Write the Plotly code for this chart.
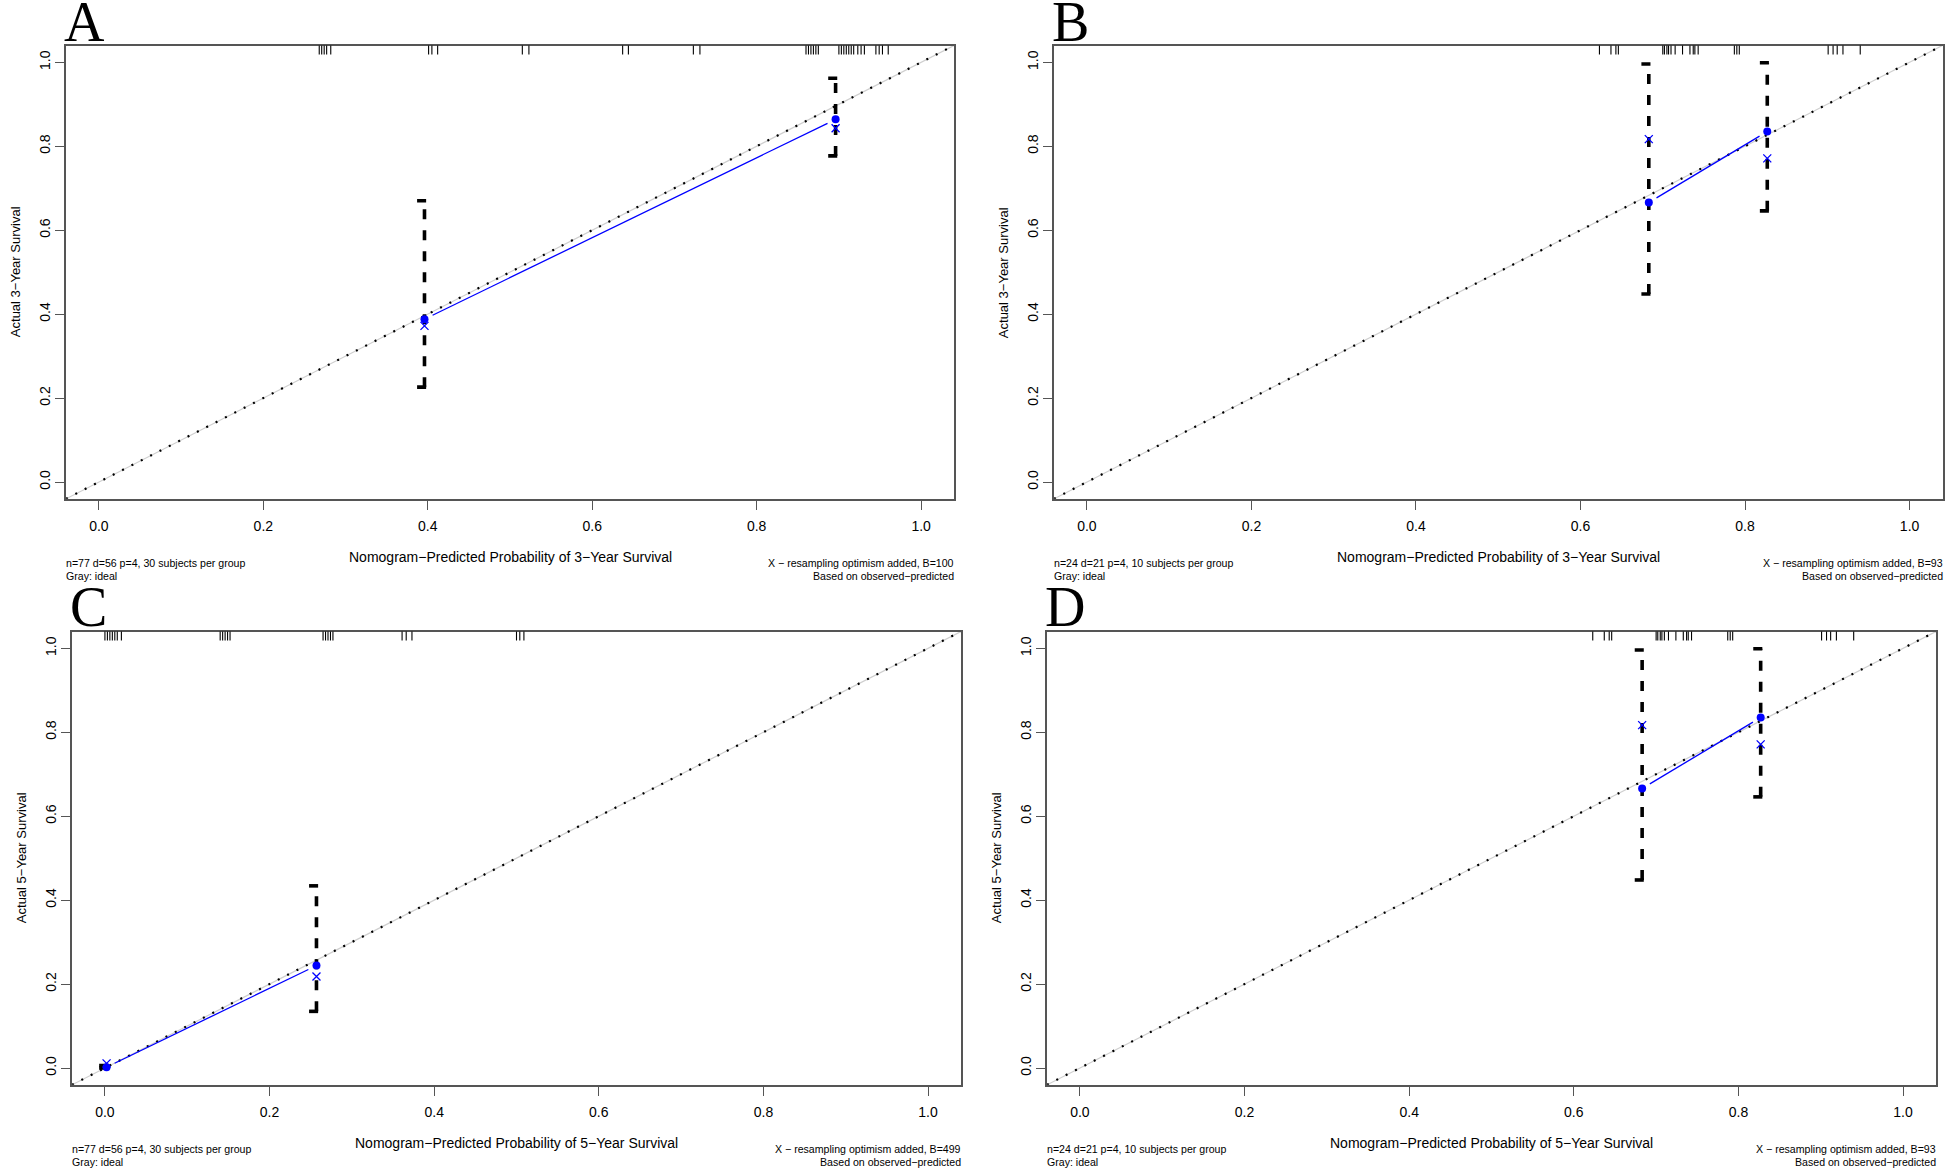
import numpy as np
import plotly.graph_objects as go

# ---------------- data ----------------
panel_letters = ["A", "B", "C", "D"]
x_titles = ["Nomogram\u2212Predicted Probability of 3\u2212Year Survival",
            "Nomogram\u2212Predicted Probability of 3\u2212Year Survival",
            "Nomogram\u2212Predicted Probability of 5\u2212Year Survival",
            "Nomogram\u2212Predicted Probability of 5\u2212Year Survival"]
y_titles = ["Actual 3\u2212Year Survival", "Actual 3\u2212Year Survival",
            "Actual 5\u2212Year Survival", "Actual 5\u2212Year Survival"]
left_notes = ["n=77 d=56 p=4, 30 subjects per group",
              "n=24 d=21 p=4, 10 subjects per group",
              "n=77 d=56 p=4, 30 subjects per group",
              "n=24 d=21 p=4, 10 subjects per group"]
left_notes2 = ["Gray: ideal"] * 4
right_notes = ["X \u2212 resampling optimism added, B=100",
               "X \u2212 resampling optimism added, B=93",
               "X \u2212 resampling optimism added, B=499",
               "X \u2212 resampling optimism added, B=93"]
right_notes2 = ["Based on observed\u2212predicted"] * 4

A_pred = [0.396, 0.896]
A_obs = [0.388, 0.864]
A_corr = [0.372, 0.843]
A_lo = [0.226, 0.777]
A_hi = [0.670, 0.962]
A_rug = [0.268, 0.271, 0.274, 0.277, 0.282, 0.401, 0.405, 0.412, 0.515, 0.523,
         0.637, 0.644, 0.723, 0.731, 0.860, 0.863, 0.866, 0.869, 0.872, 0.875,
         0.900, 0.903, 0.906, 0.909, 0.912, 0.915, 0.918, 0.923, 0.927, 0.931,
         0.945, 0.949, 0.953, 0.960]

B_pred = [0.683, 0.827]
B_obs = [0.666, 0.835]
B_corr = [0.817, 0.771]
B_lo = [0.448, 0.646]
B_hi = [0.996, 0.999]
B_rug = [0.623, 0.637, 0.643, 0.646, 0.700, 0.702, 0.705, 0.707, 0.710, 0.715,
         0.724, 0.733, 0.737, 0.739, 0.743, 0.787, 0.790, 0.793, 0.901, 0.907,
         0.912, 0.919, 0.940]

C_pred = [0.002, 0.257]
C_obs = [0.002, 0.244]
C_corr = [0.011, 0.218]
C_lo = [0.0, 0.135]
C_hi = [0.006, 0.434]
C_rug = [0.0, 0.003, 0.006, 0.009, 0.012, 0.015, 0.020, 0.140, 0.143, 0.146,
         0.149, 0.152, 0.265, 0.268, 0.271, 0.274, 0.277, 0.361, 0.366, 0.373,
         0.500, 0.504, 0.509]

D_pred = [0.683, 0.827]
D_obs = [0.666, 0.835]
D_corr = [0.817, 0.771]
D_lo = [0.448, 0.646]
D_hi = [0.996, 0.999]
D_rug = B_rug

tick_vals = [0.0, 0.2, 0.4, 0.6, 0.8, 1.0]
tick_text = ["0.0", "0.2", "0.4", "0.6", "0.8", "1.0"]

panels = [
    dict(pred=A_pred, obs=A_obs, corr=A_corr, lo=A_lo, hi=A_hi, rug=A_rug),
    dict(pred=B_pred, obs=B_obs, corr=B_corr, lo=B_lo, hi=B_hi, rug=B_rug),
    dict(pred=C_pred, obs=C_obs, corr=C_corr, lo=C_lo, hi=C_hi, rug=C_rug),
    dict(pred=D_pred, obs=D_obs, corr=D_corr, lo=D_lo, hi=D_hi, rug=D_rug),
]

# ---------------- layout constants (pixels) ----------------
W, H = 1946, 1171
boxes = [(66, 45.5, 954, 498.8),
         (1054, 45.5, 1942.5, 498.8),
         (72, 631.5, 961, 1084.8),
         (1047, 631.5, 1936, 1084.8)]
RNG = [-0.04, 1.04]

SANS = "Liberation Sans, Arial, sans-serif"
SERIF = "Liberation Serif, Times New Roman, serif"
BLUE = "#0000FF"
AXC = "#555555"


def px(xp):
    return xp / W


def py(yp):
    return 1 - yp / H


fig = go.Figure()
annotations = []
shapes = []

for i, (p, box) in enumerate(zip(panels, boxes)):
    sfx = "" if i == 0 else str(i + 1)
    xa, ya = "x" + sfx, "y" + sfx
    L, T, R, B = box
    fig.layout["xaxis" + sfx] = dict(
        domain=[px(L), px(R)], range=RNG, anchor=ya, showgrid=False, zeroline=False,
        showline=True, linecolor=AXC, linewidth=1.5, mirror=True,
        ticks="outside", ticklen=9, tickwidth=1.2, tickcolor=AXC,
        tickvals=tick_vals, ticktext=tick_text, ticklabelstandoff=5,
        tickfont=dict(family=SANS, size=14, color="black"))
    fig.layout["yaxis" + sfx] = dict(
        domain=[py(B), py(T)], range=RNG, anchor=xa, showgrid=False, zeroline=False,
        showline=True, linecolor=AXC, linewidth=1.5, mirror=True,
        ticks="outside", ticklen=9, tickwidth=1.2, tickcolor=AXC,
        tickvals=tick_vals, ticktext=tick_text, tickangle=-90,
        tickfont=dict(family=SANS, size=14, color="black"))

    # ideal line (gray) and dotted diagonal
    fig.add_trace(go.Scatter(x=RNG, y=RNG, mode="lines", xaxis=xa, yaxis=ya,
                             line=dict(color="#cfcfcf", width=1.2), showlegend=False,
                             hoverinfo="skip"))
    fig.add_trace(go.Scatter(x=RNG, y=RNG, mode="lines", xaxis=xa, yaxis=ya,
                             line=dict(color="black", width=2.2, dash="2px,8.5px"),
                             showlegend=False, hoverinfo="skip"))

    # error bars
    ex, ey, cx, cy = [], [], [], []
    for xv, lo, hi in zip(p["pred"], p["lo"], p["hi"]):
        ex += [xv, xv, None]
        ey += [lo, hi, None]
        cx += [xv - 0.009, xv + 0.002, None, xv - 0.009, xv + 0.002, None]
        cy += [hi, hi, None, lo, lo, None]
    fig.add_trace(go.Scatter(x=ex, y=ey, mode="lines", xaxis=xa, yaxis=ya,
                             line=dict(color="black", width=3.6, dash="10px,11px"),
                             showlegend=False))
    fig.add_trace(go.Scatter(x=cx, y=cy, mode="lines", xaxis=xa, yaxis=ya,
                             line=dict(color="black", width=3.6), showlegend=False))

    # blue calibration line with gaps near the points (type="b")
    xs = np.array(p["pred"], float)
    ys = np.array(p["obs"], float)
    sx = (R - L) / (RNG[1] - RNG[0])
    sy = (B - T) / (RNG[1] - RNG[0])
    lx, ly = [], []
    gap = 9.0
    for k in range(len(xs) - 1):
        dxp = (xs[k + 1] - xs[k]) * sx
        dyp = (ys[k + 1] - ys[k]) * sy
        dist = np.hypot(dxp, dyp)
        f = gap / dist if dist > 0 else 0
        if f < 0.5:
            lx += [xs[k] + f * (xs[k + 1] - xs[k]), xs[k + 1] - f * (xs[k + 1] - xs[k]), None]
            ly += [ys[k] + f * (ys[k + 1] - ys[k]), ys[k + 1] - f * (ys[k + 1] - ys[k]), None]
    fig.add_trace(go.Scatter(x=lx, y=ly, mode="lines", xaxis=xa, yaxis=ya,
                             line=dict(color=BLUE, width=1.3), showlegend=False))
    fig.add_trace(go.Scatter(x=p["pred"], y=p["obs"], mode="markers", xaxis=xa, yaxis=ya,
                             marker=dict(symbol="circle", size=8, color=BLUE),
                             showlegend=False))
    fig.add_trace(go.Scatter(x=p["pred"], y=p["corr"], mode="markers", xaxis=xa, yaxis=ya,
                             marker=dict(symbol="x-thin", size=8,
                                         line=dict(color=BLUE, width=1.3)),
                             showlegend=False))

    # rug along the top
    for rv in p["rug"]:
        shapes.append(dict(type="line", xref=xa, yref=ya + " domain", x0=rv, x1=rv,
                           y0=1, y1=1 - 9 / (B - T), line=dict(color="black", width=1.1)))

    # texts
    cxm = (L + R) / 2
    note_font = dict(family=SANS, size=10.6, color="black")
    annotations.append(dict(text=x_titles[i], xref="paper", yref="paper",
                            x=px(cxm), y=py(B + 58), xanchor="center", yanchor="middle",
                            showarrow=False, font=dict(family=SANS, size=14, color="black")))
    annotations.append(dict(text=y_titles[i], xref="paper", yref="paper",
                            x=px(L - 51), y=py((T + B) / 2), xanchor="center", yanchor="middle",
                            textangle=-90, showarrow=False,
                            font=dict(family=SANS, size=13, color="black")))
    for txt, dy in ((left_notes[i], 64.5), (left_notes2[i], 77.5)):
        annotations.append(dict(text=txt, xref="paper", yref="paper",
                                x=px(L - 1), y=py(B + dy), xanchor="left", yanchor="middle",
                                showarrow=False, borderpad=0, font=note_font))
    for txt, dy in ((right_notes[i], 64.5), (right_notes2[i], 77.5)):
        annotations.append(dict(text=txt, xref="paper", yref="paper",
                                x=px(R + 1), y=py(B + dy), xanchor="right", yanchor="middle",
                                showarrow=False, borderpad=0, font=note_font))
    annotations.append(dict(text=panel_letters[i], xref="paper", yref="paper",
                            x=px(L - 3), y=py(T - 24), xanchor="left", yanchor="middle",
                            showarrow=False, borderpad=0,
                            font=dict(family=SERIF, size=56, color="black")))

fig.update_layout(width=W, height=H, autosize=False,
                  margin=dict(l=0, r=0, t=0, b=0),
                  paper_bgcolor="white", plot_bgcolor="white",
                  showlegend=False, annotations=annotations, shapes=shapes)

fig.write_html("out.html", config={"displayModeBar": False},
               post_script="document.body.style.margin='0';document.body.style.padding='0';"
                           "document.body.style.overflow='hidden';")
